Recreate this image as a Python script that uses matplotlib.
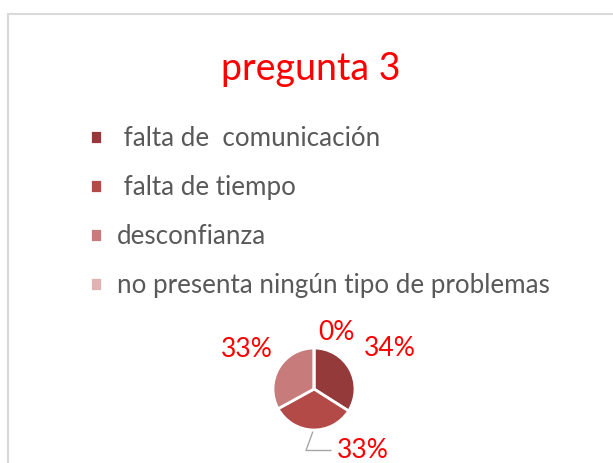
import numpy as np
import matplotlib.pyplot as plt
from matplotlib.patches import Rectangle

# datos de la pregunta 3
categorias = [' falta de  comunicación', ' falta de tiempo', 'desconfianza',
              'no presenta ningún tipo de problemas']
valores = [34, 33, 33, 0]
etiquetas = ['34%', '33%', '33%', '0%']
colores = ['#953a3a', '#b34a48', '#c77b7a', '#e0b3b2']

plt.rcParams['font.family'] = ['Lato', 'DejaVu Sans']

W, H = 613, 463
fig = plt.figure(figsize=(W / 100, H / 100), dpi=100)

# marco gris claro
fig.patches.append(Rectangle((8 / W, -0.1), 1.2, 1 - 14 / H + 0.1,
                             transform=fig.transFigure, fill=False,
                             edgecolor='#d9d9d9', linewidth=1.5))

fig.text(311 / W, 1 - 69 / H, 'pregunta 3', color='#ff0000', fontsize=27,
         ha='center', va='center')

# pastel
cx, cy, r = 314, 389, 41
ax = fig.add_axes([(cx - r) / W, (H - cy - r) / H, 2 * r / W, 2 * r / H])
wedges, _ = ax.pie(valores, colors=colores, startangle=90, counterclock=False,
                   radius=1, wedgeprops=dict(edgecolor='white', linewidth=2))
ax.set_xlim(-1, 1)
ax.set_ylim(-1, 1)

# etiquetas de datos (posicion relativa al angulo medio de cada porcion)
dist = [2.05, 1.0, 1.9, 1.38]
desp = [(0.05, 0), (0, 0), (0, 0), (0.55, 0)]
for i, w in enumerate(wedges):
    ang = np.deg2rad((w.theta1 + w.theta2) / 2)
    x = np.cos(ang) * dist[i] + desp[i][0]
    y = np.sin(ang) * dist[i] + desp[i][1]
    if i == 1:
        # etiqueta con linea guia
        ax.annotate(etiquetas[i], xy=(np.cos(ang) * 1.0, np.sin(ang) * 1.05),
                    xytext=(0.55, -1.5), color='#ff0000', fontsize=19,
                    ha='left', va='center', annotation_clip=False,
                    arrowprops=dict(arrowstyle='-', color='#a6a6a6', lw=1,
                                    connectionstyle='angle,angleA=0,angleB=70,rad=0',
                                    shrinkA=2, shrinkB=0))
    else:
        ax.text(x, y, etiquetas[i], color='#ff0000', fontsize=19,
                ha='center', va='center', clip_on=False)

# leyenda
fig.legend(wedges, categorias, loc='upper left',
           bbox_to_anchor=(90 / W, 1 - 126 / H), frameon=False,
           borderaxespad=0, borderpad=0,
           fontsize=18.7, labelcolor='#595959', handlelength=0.45,
           handleheight=0.45, handletextpad=0.6, labelspacing=0.93)

fig.savefig('out.png', dpi=100)
